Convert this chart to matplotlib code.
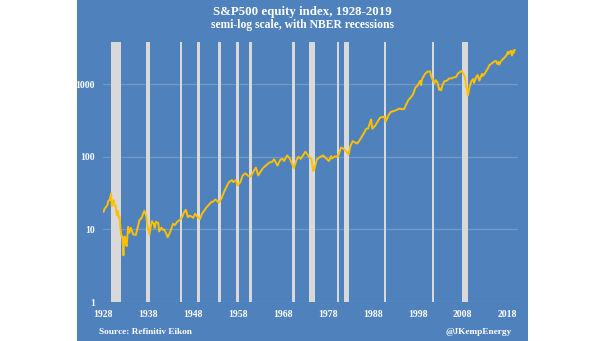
import matplotlib.pyplot as plt
from matplotlib.patches import Rectangle

# S&P500 index level (year as decimal, index value)
years = [
    1928.0, 1928.3, 1928.6, 1928.9, 1929.1, 1929.4, 1929.55, 1929.7, 1929.85, 1930.0,
    1930.3, 1930.5, 1930.7, 1930.95, 1931.2, 1931.4, 1931.6, 1931.8, 1932.0, 1932.2,
    1932.4, 1932.45, 1932.55, 1932.7, 1932.95, 1933.15, 1933.35, 1933.5, 1933.8, 1934.1,
    1934.6, 1935.2, 1935.6, 1936.0, 1936.5, 1937.1, 1937.5, 1937.9, 1938.25, 1938.5,
    1938.8, 1939.2, 1939.4, 1939.7, 1940.2, 1940.4, 1940.9, 1941.2, 1941.5, 1941.95,
    1942.3, 1942.9, 1943.5, 1943.9, 1944.5, 1945.0, 1945.5, 1946.0, 1946.35, 1946.8,
    1947.2, 1947.5, 1948.0, 1948.4, 1948.9, 1949.5, 1949.95, 1950.5, 1950.9, 1951.5,
    1951.9, 1952.5, 1952.95, 1953.7, 1954.3, 1954.95, 1955.5, 1955.95, 1956.6, 1956.9,
    1957.5, 1957.8, 1958.5, 1958.95, 1959.6, 1960.2, 1960.8, 1961.5, 1961.95, 1962.45,
    1962.95, 1963.5, 1963.95, 1964.95, 1965.5, 1966.0, 1966.75, 1967.4, 1967.9, 1968.2,
    1968.9, 1969.5, 1970.4, 1970.95, 1971.4, 1971.9, 1972.95, 1973.6, 1973.95, 1974.3,
    1974.7, 1974.95, 1975.5, 1976.2, 1976.9, 1977.9, 1978.2, 1978.7, 1978.9, 1979.5,
    1980.2, 1980.9, 1981.4, 1981.9, 1982.6, 1982.95, 1983.5, 1984.5, 1984.95, 1985.95,
    1986.5, 1986.9, 1987.6, 1987.85, 1988.5, 1989.6, 1990.5, 1990.8, 1991.5, 1991.95,
    1992.9, 1993.95, 1994.5, 1994.95, 1995.5, 1995.95, 1996.5, 1996.95, 1997.5, 1997.9,
    1998.5, 1998.7, 1998.95, 1999.5, 1999.95, 2000.2, 2000.7, 2000.95, 2001.3, 2001.7,
    2001.95, 2002.4, 2002.75, 2002.95, 2003.2, 2003.5, 2003.95, 2004.5, 2004.95, 2005.5,
    2005.95, 2006.5, 2006.95, 2007.5, 2007.8, 2008.3, 2008.5, 2008.8, 2008.95, 2009.15,
    2009.5, 2009.95, 2010.3, 2010.5, 2010.95, 2011.3, 2011.7, 2011.95, 2012.3, 2012.45,
    2012.95, 2013.5, 2013.95, 2014.5, 2014.95, 2015.4, 2015.7, 2015.95, 2016.1, 2016.5,
    2016.95, 2017.5, 2017.95, 2018.05, 2018.2, 2018.7, 2018.95, 2019.3, 2019.4, 2019.55,
]
values = [
    17.5, 19.5, 20.5, 22.0, 24.9, 25.5, 28.5, 31.3, 21.0, 22.5,
    25.5, 21.0, 21.5, 15.8, 18.0, 14.5, 15.0, 10.0, 8.1, 8.0,
    5.0, 4.4, 6.5, 8.0, 6.9, 5.9, 8.5, 10.9, 9.0, 10.5,
    8.6, 8.4, 10.5, 13.4, 14.5, 18.1, 15.5, 10.3, 8.5, 11.0,
    13.0, 12.0, 10.5, 12.8, 12.3, 9.4, 10.6, 9.9, 10.0, 8.9,
    7.8, 9.4, 12.0, 11.5, 12.9, 13.5, 14.8, 17.5, 18.7, 14.8,
    15.5, 15.2, 14.5, 16.5, 15.0, 14.0, 16.5, 18.5, 20.0, 22.0,
    23.5, 24.5, 26.0, 23.3, 27.0, 34.0, 40.0, 45.0, 48.0, 45.0,
    48.0, 40.3, 45.0, 55.0, 59.6, 55.0, 53.5, 65.0, 71.5, 55.6,
    62.0, 70.0, 74.0, 84.0, 85.0, 93.0, 76.0, 92.0, 94.0, 88.0,
    105.0, 95.0, 70.0, 90.0, 101.0, 94.0, 118.0, 105.0, 97.0, 95.0,
    64.0, 68.0, 92.0, 100.0, 105.0, 92.0, 88.0, 103.0, 95.0, 102.0,
    101.0, 135.0, 131.0, 122.0, 108.0, 140.0, 165.0, 153.0, 167.0, 210.0,
    245.0, 245.0, 330.0, 245.0, 270.0, 350.0, 360.0, 305.0, 380.0, 417.0,
    435.0, 466.0, 455.0, 459.0, 545.0, 615.0, 670.0, 740.0, 915.0, 955.0,
    1120.0, 980.0, 1190.0, 1370.0, 1469.0, 1500.0, 1517.0, 1320.0, 1160.0, 1040.0,
    1148.0, 1060.0, 840.0, 880.0, 830.0, 990.0, 1112.0, 1130.0, 1211.0, 1210.0,
    1248.0, 1270.0, 1418.0, 1500.0, 1540.0, 1330.0, 1260.0, 900.0, 880.0, 700.0,
    920.0, 1115.0, 1186.0, 1050.0, 1257.0, 1350.0, 1130.0, 1257.0, 1400.0, 1310.0,
    1426.0, 1630.0, 1848.0, 1960.0, 2058.0, 2110.0, 1920.0, 2043.0, 1880.0, 2100.0,
    2239.0, 2420.0, 2673.0, 2823.0, 2640.0, 2913.0, 2506.0, 2945.0, 2752.0, 2980.0,
]

# NBER recessions as drawn (start, end)
rec_start = [1929.6, 1937.4, 1945.1, 1948.85, 1953.5, 1957.6, 1960.3, 1969.9, 1973.85, 1980.0, 1981.5, 1990.5, 2001.2, 2007.9]
rec_end = [1932.0, 1938.4, 1945.6, 1949.6, 1954.2, 1958.2, 1961.0, 1970.7, 1975.0, 1980.4, 1982.75, 1991.0, 2001.7, 2009.25]

xticks = [1928, 1938, 1948, 1958, 1968, 1978, 1988, 1998, 2008, 2018]
yticks = [1, 10, 100, 1000]

BLUE = "#4f81bd"
GRID = "#7399c9"
BAR = "#d9d9d9"
GOLD = "#ffc000"
font = "Liberation Serif"

fig = plt.figure(figsize=(6.05, 3.41), dpi=100)
fig.patch.set_facecolor("white")
panel = Rectangle((77 / 605, 0), 451 / 605, 1, transform=fig.transFigure,
                  facecolor=BLUE, edgecolor="none", zorder=-10)
fig.add_artist(panel)

ax = fig.add_axes([103 / 605, 39 / 341, 415 / 605, 260 / 341])
ax.set_facecolor("none")
ax.set_yscale("log")
ax.set_xlim(1927.9, 2020.3)
ax.set_ylim(1, 3850)

for y in yticks:
    ax.axhline(y, color=GRID, lw=0.9, zorder=1)

for s, e in zip(rec_start, rec_end):
    ax.axvspan(s, e, color=BAR, lw=0, zorder=2)

ax.plot(years, values, color=GOLD, lw=1.4, zorder=3)

for sp in ax.spines.values():
    sp.set_visible(False)
ax.set_xticks(xticks)
ax.set_xticklabels([str(t) for t in xticks])
ax.set_yticks(yticks)
ax.set_yticklabels([str(t) for t in yticks])
ax.minorticks_off()
ax.tick_params(length=0, colors="white", labelsize=7, pad=6)
for lab in ax.get_xticklabels() + ax.get_yticklabels():
    lab.set_fontfamily(font)
    lab.set_fontweight("bold")

fig.text(0.5, 1 - 12 / 341, "S&P500 equity index, 1928-2019", ha="center", va="center",
         color="white", fontsize=9.3, fontweight="bold", family=font)
fig.text(0.5, 1 - 25 / 341, "semi-log scale, with NBER recessions", ha="center", va="center",
         color="white", fontsize=8.4, fontweight="bold", family=font)
fig.text(99 / 605, 1 - 332 / 341, "Source: Refinitiv Eikon", ha="left", va="center",
         color="white", fontsize=6.7, fontweight="bold", family=font)
fig.text(512 / 605, 1 - 332 / 341, "@JKempEnergy", ha="right", va="center",
         color="white", fontsize=6.7, fontweight="bold", family=font)

fig.savefig("out.png", dpi=100)
